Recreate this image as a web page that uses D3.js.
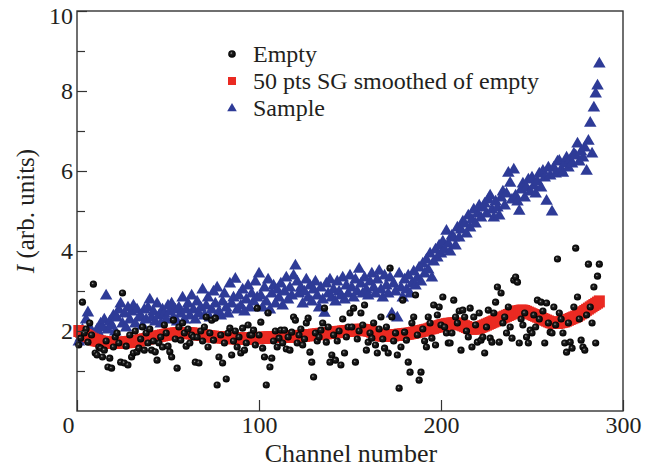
<!DOCTYPE html>
<html>
<head>
<meta charset="utf-8">
<script src="https://cdn.jsdelivr.net/npm/d3@7"></script>
<style>
body { margin: 0; background: #fff; }
</style>
</head>
<body>
<div id="chart"></div>
<script>
// Channels 1..287, one value per channel for each series
const emptyValues = [
    1.65, 1.82, 2.72, 1.95, 2.05, 1.72, 2.20, 1.90, 3.17, 1.45,
    1.40, 1.60, 1.57, 1.35, 1.52, 1.75, 1.10, 1.32, 1.07, 1.60,
    1.85, 1.95, 1.70, 1.22, 2.95, 1.20, 1.62, 1.15, 1.90, 1.35,
    1.45, 2.00, 1.48, 1.57, 1.80, 2.10, 1.52, 1.95, 1.70, 2.05,
    1.52, 1.75, 1.48, 1.27, 1.70, 1.85, 1.60, 2.15, 1.95, 1.62,
    1.48, 1.35, 2.27, 1.80, 1.07, 2.10, 1.77, 2.20, 1.95, 1.62,
    2.05, 1.70, 1.90, 1.85, 1.22, 1.85, 1.20, 2.00, 1.75, 2.10,
    2.35, 1.60, 1.95, 2.27, 1.77, 2.32, 0.65, 1.35, 1.90, 1.20,
    1.70, 0.80, 1.95, 2.07, 1.40, 1.75, 2.00, 1.60, 1.85, 1.45,
    2.07, 1.52, 1.70, 2.15, 1.90, 1.90, 2.02, 1.65, 2.57, 1.90,
    2.22, 1.57, 1.35, 0.65, 2.45, 1.10, 1.32, 1.75, 2.00, 1.60,
    1.82, 2.02, 1.70, 2.02, 1.55, 1.85, 1.52, 1.97, 2.35, 2.27,
    1.70, 1.90, 2.05, 1.65, 1.80, 2.20, 2.32, 1.47, 1.22, 0.85,
    1.95, 1.75, 1.85, 2.02, 2.20, 2.57, 1.72, 2.10, 1.22, 1.40,
    1.90, 1.27, 1.75, 2.00, 1.15, 2.30, 1.45, 1.85, 2.10, 2.45,
    2.10, 2.57, 1.22, 1.80, 2.00, 2.45, 2.15, 2.65, 1.52, 1.72,
    1.95, 1.82, 2.20, 1.65, 1.45, 2.05, 2.35, 1.80, 1.57, 2.10,
    1.45, 3.57, 2.35, 1.75, 1.95, 1.40, 0.57, 1.60, 2.77, 1.97,
    1.77, 1.22, 0.97, 2.20, 2.35, 2.90, 1.90, 0.77, 0.97, 2.05,
    1.75, 1.60, 2.35, 2.20, 1.82, 2.65, 1.65, 2.40, 2.60, 2.15,
    2.85, 2.10, 1.95, 1.70, 1.70, 1.95, 2.77, 2.35, 2.20, 2.50,
    1.52, 2.52, 2.35, 2.00, 1.85, 2.57, 1.60, 2.35, 2.15, 1.72,
    2.45, 1.77, 1.85, 1.45, 2.10, 2.52, 1.82, 1.72, 2.45, 2.72,
    3.10, 1.72, 2.95, 2.20, 2.35, 1.95, 2.60, 2.10, 1.82, 3.27,
    3.35, 3.22, 1.70, 2.30, 2.15, 2.45, 1.85, 1.70, 2.02, 1.95,
    2.40, 2.10, 2.77, 2.30, 2.72, 2.50, 1.70, 2.70, 2.20, 1.97,
    1.95, 2.60, 2.15, 3.80, 2.45, 2.30, 1.95, 1.70, 1.47, 2.20,
    1.72, 1.57, 2.60, 4.07, 2.85, 2.30, 1.77, 1.60, 1.52, 2.40,
    3.67, 2.60, 2.20, 3.10, 1.70, 3.37, 3.67
];

const smoothedValues = [
    2.00, 1.98, 1.96, 1.93, 1.90, 1.87, 1.84, 1.81, 1.79, 1.77,
    1.76, 1.75, 1.74, 1.73, 1.72, 1.72, 1.71, 1.71, 1.70, 1.70,
    1.70, 1.70, 1.70, 1.71, 1.71, 1.71, 1.72, 1.72, 1.73, 1.73,
    1.74, 1.74, 1.75, 1.76, 1.77, 1.78, 1.79, 1.80, 1.81, 1.82,
    1.83, 1.84, 1.85, 1.86, 1.87, 1.88, 1.89, 1.90, 1.91, 1.92,
    1.92, 1.93, 1.93, 1.94, 1.94, 1.95, 1.95, 1.95, 1.95, 1.95,
    1.95, 1.94, 1.94, 1.93, 1.93, 1.92, 1.91, 1.90, 1.90, 1.89,
    1.88, 1.87, 1.87, 1.86, 1.86, 1.85, 1.85, 1.84, 1.84, 1.84,
    1.83, 1.83, 1.83, 1.82, 1.82, 1.82, 1.82, 1.81, 1.81, 1.81,
    1.81, 1.81, 1.81, 1.81, 1.81, 1.81, 1.82, 1.82, 1.82, 1.82,
    1.83, 1.83, 1.83, 1.84, 1.84, 1.84, 1.85, 1.85, 1.85, 1.85,
    1.85, 1.86, 1.86, 1.86, 1.86, 1.86, 1.86, 1.86, 1.87, 1.87,
    1.87, 1.87, 1.88, 1.88, 1.88, 1.89, 1.89, 1.90, 1.90, 1.91,
    1.91, 1.92, 1.92, 1.93, 1.93, 1.94, 1.94, 1.95, 1.95, 1.96,
    1.96, 1.97, 1.97, 1.98, 1.98, 1.99, 1.99, 2.00, 2.00, 2.01,
    2.01, 2.02, 2.02, 2.03, 2.03, 2.03, 2.03, 2.02, 2.02, 2.01,
    2.00, 1.98, 1.96, 1.94, 1.92, 1.90, 1.89, 1.88, 1.88, 1.88,
    1.88, 1.88, 1.89, 1.89, 1.90, 1.90, 1.91, 1.91, 1.92, 1.92,
    1.93, 1.93, 1.94, 1.95, 1.96, 1.97, 1.98, 1.99, 2.00, 2.01,
    2.02, 2.03, 2.04, 2.06, 2.07, 2.08, 2.10, 2.11, 2.12, 2.14,
    2.15, 2.16, 2.17, 2.18, 2.18, 2.19, 2.19, 2.19, 2.18, 2.17,
    2.16, 2.14, 2.12, 2.10, 2.08, 2.07, 2.06, 2.06, 2.06, 2.07,
    2.08, 2.10, 2.12, 2.14, 2.16, 2.18, 2.20, 2.22, 2.24, 2.26,
    2.28, 2.30, 2.32, 2.34, 2.36, 2.38, 2.40, 2.42, 2.44, 2.46,
    2.48, 2.49, 2.50, 2.51, 2.51, 2.50, 2.48, 2.46, 2.44, 2.42,
    2.40, 2.38, 2.36, 2.34, 2.32, 2.30, 2.28, 2.26, 2.24, 2.22,
    2.21, 2.20, 2.20, 2.20, 2.21, 2.22, 2.23, 2.24, 2.26, 2.28,
    2.30, 2.32, 2.34, 2.36, 2.38, 2.41, 2.44, 2.47, 2.50, 2.53,
    2.56, 2.59, 2.62, 2.65, 2.68, 2.71, 2.74
];

const sampleValues = [
    1.75, 1.85, 2.05, 1.80, 2.30, 2.48, 2.10, 1.95, 1.80, 1.90,
    2.05, 1.95, 2.20, 2.10, 2.30, 2.90, 2.05, 2.25, 2.15, 2.40,
    2.00, 2.35, 2.55, 2.70, 2.20, 2.45, 2.10, 2.60, 2.30, 2.50,
    2.65, 2.20, 2.55, 2.35, 2.40, 2.15, 2.55, 2.30, 2.60, 2.80,
    2.35, 2.50, 2.25, 2.70, 2.40, 2.20, 2.55, 2.45, 2.30, 2.65,
    2.50, 2.70, 2.35, 2.55, 2.25, 2.60, 2.45, 2.85, 2.30, 2.55,
    2.70, 2.40, 2.90, 2.55, 2.30, 2.75, 2.45, 2.60, 3.05, 2.40,
    2.65, 2.85, 2.35, 2.55, 3.00, 2.70, 3.10, 2.50, 2.40, 2.75,
    2.95, 2.60, 2.45, 3.20, 2.70, 2.85, 3.32, 2.55, 2.90, 2.65,
    3.05, 2.50, 2.80, 3.15, 2.60, 2.95, 2.75, 3.25, 2.85, 3.45,
    2.90, 2.60, 3.10, 2.75, 3.30, 2.55, 2.95, 3.15, 2.70, 3.05,
    2.85, 3.20, 2.65, 3.00, 3.35, 2.80, 3.10, 2.90, 3.40, 3.65,
    3.25, 2.95, 3.10, 2.70, 3.00, 3.30, 2.85, 3.15, 2.75, 3.05,
    3.25, 2.90, 2.60, 3.10, 2.80, 2.47, 3.20, 2.95, 3.30, 2.85,
    3.05, 2.75, 3.25, 3.00, 2.90, 3.35, 2.80, 3.15, 2.95, 3.40,
    3.10, 2.85, 3.30, 3.00, 3.57, 3.20, 2.95, 3.35, 3.05, 2.90,
    3.25, 3.45, 3.10, 2.95, 3.30, 3.52, 3.05, 2.85, 3.40, 3.15,
    2.95, 3.35, 2.45, 3.20, 3.00, 2.35, 3.45, 3.10, 2.85, 3.30,
    3.05, 3.40, 2.95, 3.20, 3.50, 3.15, 3.35, 3.60, 3.25, 3.70,
    3.45, 3.80, 3.55, 3.95, 3.35, 3.75, 4.05, 3.85, 4.15, 3.95,
    4.25, 4.05, 4.52, 4.20, 4.00, 4.40, 4.35, 4.15, 4.60, 4.35,
    4.55, 4.75, 4.70, 4.45, 4.90, 4.60, 4.80, 5.05, 4.70, 4.95,
    5.15, 4.85, 5.10, 5.20, 4.95, 5.30, 5.40, 5.05, 4.85, 5.25,
    5.10, 4.90, 5.35, 5.50, 5.15, 5.45, 5.97, 5.72, 5.30, 6.05,
    5.40, 5.25, 5.02, 5.55, 5.70, 5.35, 5.60, 5.80, 5.50, 5.85,
    5.65, 5.45, 5.75, 5.95, 5.60, 6.02, 5.85, 5.27, 6.10, 5.90,
    5.00, 6.10, 5.95, 6.25, 6.27, 6.05, 5.97, 6.20, 6.35, 6.10,
    6.30, 6.20, 6.45, 6.40, 6.70, 6.25, 6.50, 6.35, 6.60, 6.02,
    6.77, 7.22, 6.45, 7.60, 7.95, 8.15, 8.70
];

const xTicks = [0, 100, 200, 300];
const yTicks = [2, 4, 6, 8, 10];
const yMinorTicks = [1, 3, 5, 7, 9];
const legendLabels = ["Empty", "50 pts SG smoothed of empty", "Sample"];

const width = 655;
const height = 469;
const margin = { top: 11, right: 32, bottom: 58, left: 77 };

const fontFamily = "'Liberation Serif'";
const textColor = "#231f20";
const blue = "#2e3b97";
const red = "#ea2a22";

const svg = d3.select("#chart")
    .append("svg")
    .attr("width", width)
    .attr("height", height);

const x = d3.scaleLinear()
    .domain([0, 300])
    .range([margin.left, width - margin.right]);

const y = d3.scaleLinear()
    .domain([0, 10])
    .range([height - margin.bottom, margin.top]);

// shaded look for the black dots
const grad = svg.append("defs")
    .append("radialGradient")
    .attr("id", "ball")
    .attr("cx", "0.5").attr("cy", "0.5").attr("r", "0.5")
    .attr("fx", "0.38").attr("fy", "0.35");
grad.append("stop").attr("offset", "0").attr("stop-color", "#bbb");
grad.append("stop").attr("offset", "0.3").attr("stop-color", "#222");
grad.append("stop").attr("offset", "1").attr("stop-color", "#000");

function rows(values) {
    return values.map(function(v, i) {
        return { channel: i + 1, value: v };
    });
}

const triangle = d3.symbol().type(d3.symbolTriangle).size(68);

// Sample
svg.append("g")
    .selectAll("path")
    .data(rows(sampleValues))
    .enter()
    .append("path")
    .attr("d", triangle)
    .attr("transform", function(d) {
        return "translate(" + x(d.channel) + "," + (y(d.value) + 1) + ")";
    })
    .attr("fill", blue);

// Smoothed empty
svg.append("g")
    .selectAll("rect")
    .data(rows(smoothedValues))
    .enter()
    .append("rect")
    .attr("x", function(d) { return x(d.channel) - 5.5; })
    .attr("y", function(d) { return y(d.value) - 6; })
    .attr("width", 11)
    .attr("height", 12)
    .attr("fill", red);

// Empty
svg.append("g")
    .selectAll("circle")
    .data(rows(emptyValues))
    .enter()
    .append("circle")
    .attr("cx", function(d) { return x(d.channel); })
    .attr("cy", function(d) { return y(d.value); })
    .attr("r", 3.6)
    .attr("fill", "url(#ball)");

// Axes
const xAxis = svg.append("g")
    .attr("transform", "translate(0," + (height - margin.bottom) + ")")
    .call(d3.axisBottom(x).tickValues(xTicks).tickSize(-11).tickPadding(5).tickFormat(d3.format("d")));

xAxis.selectAll("text")
    .attr("dx", function(d) { return d === 0 ? -9 : 0; });

const yAxis = svg.append("g")
    .attr("transform", "translate(" + margin.left + ",0)")
    .call(d3.axisLeft(y).tickValues(yTicks).tickSize(-10).tickPadding(4));

yAxis.selectAll("text")
    .attr("dy", function(d) { return d === 10 ? "0.5em" : "0.32em"; });

svg.append("g")
    .attr("transform", "translate(" + margin.left + ",0)")
    .call(d3.axisLeft(y).tickValues(yMinorTicks).tickSize(-8).tickFormat(""));

svg.selectAll(".domain").remove();
svg.selectAll(".tick line").attr("stroke", "#333").attr("stroke-width", 1.2);
svg.selectAll(".tick text")
    .attr("fill", textColor)
    .attr("font-size", 24)
    .style("font-family", fontFamily);

svg.append("rect")
    .attr("x", margin.left)
    .attr("y", margin.top)
    .attr("width", width - margin.left - margin.right)
    .attr("height", height - margin.top - margin.bottom)
    .attr("fill", "none")
    .attr("stroke", "#333")
    .attr("stroke-width", 1.4);

// Axis titles
svg.append("text")
    .attr("x", 351)
    .attr("y", 462)
    .attr("text-anchor", "middle")
    .attr("font-size", 26)
    .attr("fill", textColor)
    .style("font-family", fontFamily)
    .text("Channel number");

const yTitle = svg.append("text")
    .attr("transform", "translate(34,211) rotate(-90)")
    .attr("text-anchor", "middle")
    .attr("font-size", 25)
    .attr("fill", textColor)
    .style("font-family", fontFamily);
yTitle.append("tspan").attr("font-style", "italic").text("I");
yTitle.append("tspan").text("\u00a0(arb. units)");

// Legend
const legend = svg.append("g");
const legendY = [54, 81, 107.5];

legend.append("circle")
    .attr("cx", 232).attr("cy", legendY[0]).attr("r", 3.8)
    .attr("fill", "url(#ball)");

legend.append("rect")
    .attr("x", 228).attr("y", legendY[1] - 4).attr("width", 8).attr("height", 8)
    .attr("fill", red);

legend.append("path")
    .attr("d", d3.symbol().type(d3.symbolTriangle).size(40))
    .attr("transform", "translate(232," + (legendY[2] + 1) + ")")
    .attr("fill", blue);

legend.selectAll("text")
    .data(legendLabels)
    .enter()
    .append("text")
    .attr("x", 253)
    .attr("y", function(d, i) { return legendY[i]; })
    .attr("dy", "0.35em")
    .attr("font-size", 24)
    .attr("fill", textColor)
    .style("font-family", fontFamily)
    .text(function(d) { return d; });
</script>
</body>
</html>
